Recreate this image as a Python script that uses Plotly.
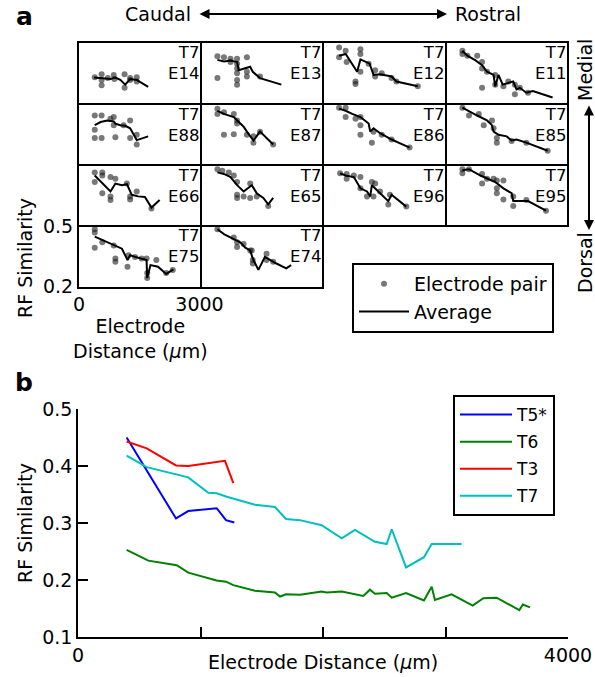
import plotly.graph_objects as go

W, H = 595, 677
FONT = "DejaVu Sans"

# ---------------- Panel a data (T7 electrodes) ----------------
cells = ["E14", "E13", "E12", "E11",
         "E88", "E87", "E86", "E85",
         "E66", "E65", "E96", "E95",
         "E75", "E74"]
cell_rows = [0, 0, 0, 0, 1, 1, 1, 1, 2, 2, 2, 2, 3, 3]
cell_cols = [0, 1, 2, 3, 0, 1, 2, 3, 0, 1, 2, 3, 0, 1]

avg_x = {
    "E14": [375, 580, 784, 906, 1029, 1151, 1273, 1437, 1722],
    "E13": [396, 559, 722, 886, 926, 1049, 1212, 1277, 1457, 1988],
    "E12": [376, 539, 825, 907, 1135, 1233, 1396, 1682, 1804, 2335],
    "E11": [396, 519, 723, 886, 1008, 1172, 1213, 1294, 1400, 1539, 1661, 1743, 1825, 1988, 2151, 2641],
    "E88": [392, 539, 702, 865, 906, 1029, 1151, 1273, 1437, 1722],
    "E87": [396, 559, 804, 886, 1049, 1130, 1294, 1457, 1784],
    "E86": [376, 539, 702, 907, 1111, 1151, 1233, 1396, 1682, 2131],
    "E85": [396, 560, 764, 1008, 1131, 1172, 1294, 1498, 1621, 1743, 1988, 2519],
    "E66": [392, 580, 784, 906, 1069, 1192, 1314, 1477, 1641, 1804, 2008],
    "E65": [396, 559, 722, 886, 1049, 1253, 1375, 1539, 1661, 1784],
    "E96": [400, 539, 743, 907, 1070, 1151, 1192, 1356, 1519, 1600, 1682, 2049],
    "E95": [396, 560, 845, 1008, 1213, 1417, 1621, 1662, 1825, 2029, 2478],
    "E75": [392, 620, 865, 1029, 1069, 1208, 1273, 1396, 1559, 1682, 1698, 1780, 1967, 2171, 2351],
    "E74": [396, 559, 804, 967, 1090, 1212, 1277, 1416, 1579, 1702, 1865, 2110, 2232],
}
avg_y = {
    "E14": [0.326, 0.323, 0.319, 0.326, 0.314, 0.290, 0.318, 0.314, 0.279],
    "E13": [0.415, 0.407, 0.412, 0.404, 0.363, 0.371, 0.380, 0.355, 0.323, 0.290],
    "E12": [0.436, 0.445, 0.355, 0.417, 0.396, 0.339, 0.342, 0.331, 0.306, 0.282],
    "E11": [0.461, 0.436, 0.412, 0.388, 0.355, 0.339, 0.282, 0.339, 0.290, 0.298, 0.306, 0.266, 0.274, 0.249, 0.258, 0.225],
    "E88": [0.395, 0.411, 0.419, 0.414, 0.403, 0.395, 0.392, 0.379, 0.319, 0.338],
    "E87": [0.468, 0.452, 0.436, 0.419, 0.387, 0.362, 0.317, 0.362, 0.297],
    "E86": [0.479, 0.468, 0.452, 0.436, 0.403, 0.362, 0.379, 0.354, 0.322, 0.281],
    "E85": [0.484, 0.468, 0.444, 0.419, 0.395, 0.362, 0.346, 0.338, 0.317, 0.322, 0.306, 0.265],
    "E66": [0.449, 0.408, 0.368, 0.408, 0.400, 0.405, 0.351, 0.343, 0.340, 0.286, 0.324],
    "E65": [0.465, 0.457, 0.441, 0.400, 0.368, 0.400, 0.359, 0.335, 0.302, 0.335],
    "E96": [0.460, 0.449, 0.441, 0.384, 0.368, 0.343, 0.400, 0.368, 0.335, 0.319, 0.351, 0.291],
    "E95": [0.476, 0.481, 0.449, 0.433, 0.416, 0.384, 0.359, 0.319, 0.319, 0.319, 0.270],
    "E75": [0.449, 0.429, 0.405, 0.389, 0.389, 0.332, 0.356, 0.348, 0.340, 0.332, 0.242, 0.307, 0.299, 0.263, 0.286],
    "E74": [0.486, 0.462, 0.437, 0.421, 0.394, 0.380, 0.340, 0.283, 0.348, 0.332, 0.315, 0.291, 0.307],
}
pair_x = {
    "E14": [392, 563, 563, 563, 718, 865, 882, 1135, 1135, 1273, 1437, 1437, 1273],
    "E13": [396, 396, 559, 722, 722, 886, 886, 886, 886, 886, 886, 1130, 1130, 1130, 1457],
    "E12": [376, 376, 539, 564, 784, 784, 907, 907, 907, 1111, 1274, 1274, 1437, 1682, 1804, 2335],
    "E11": [396, 396, 519, 764, 886, 886, 886, 1008, 1213, 1213, 1417, 1539, 1702, 1702, 1825, 2029],
    "E88": [392, 392, 392, 563, 563, 784, 865, 865, 906, 1110, 1273, 1273, 1437, 1437],
    "E87": [396, 396, 559, 804, 886, 886, 559, 804, 1130, 1294, 1294, 1457, 1784],
    "E86": [376, 539, 539, 784, 907, 907, 907, 1192, 1233, 1437, 1682, 2131],
    "E85": [396, 560, 804, 927, 1131, 1172, 1253, 1253, 1621, 1988, 2519],
    "E66": [392, 392, 580, 580, 580, 784, 784, 784, 906, 1192, 1273, 1273, 1437, 1804],
    "E65": [396, 518, 681, 804, 886, 886, 886, 1049, 1212, 1212, 1375, 1661],
    "E96": [400, 564, 564, 743, 907, 907, 1070, 1192, 1233, 1274, 1396, 1600, 1641, 2049],
    "E95": [396, 396, 560, 886, 886, 1008, 1172, 1253, 1253, 1417, 1253, 1417, 1662, 1662, 1988, 2478],
    "E75": [392, 392, 392, 580, 865, 906, 906, 1208, 1233, 1396, 1559, 1682, 1698, 1698, 1926, 2171, 2335],
    "E74": [396, 804, 886, 886, 1049, 1212, 1277, 1277, 1620, 1620, 1784, 1253],
}
pair_y = {
    "E14": [0.327, 0.342, 0.314, 0.287, 0.323, 0.339, 0.318, 0.342, 0.274, 0.314, 0.327, 0.306, 0.323],
    "E13": [0.433, 0.323, 0.428, 0.420, 0.404, 0.420, 0.396, 0.371, 0.347, 0.314, 0.290, 0.428, 0.355, 0.331, 0.331],
    "E12": [0.477, 0.428, 0.461, 0.404, 0.306, 0.293, 0.469, 0.445, 0.355, 0.396, 0.363, 0.331, 0.347, 0.323, 0.306, 0.282],
    "E11": [0.461, 0.445, 0.436, 0.436, 0.404, 0.371, 0.274, 0.355, 0.339, 0.290, 0.282, 0.306, 0.290, 0.241, 0.274, 0.249],
    "E88": [0.444, 0.371, 0.330, 0.444, 0.330, 0.428, 0.436, 0.395, 0.333, 0.395, 0.419, 0.330, 0.346, 0.297],
    "E87": [0.479, 0.452, 0.460, 0.452, 0.419, 0.403, 0.346, 0.349, 0.346, 0.338, 0.306, 0.362, 0.297],
    "E86": [0.484, 0.484, 0.436, 0.428, 0.436, 0.395, 0.346, 0.306, 0.362, 0.346, 0.322, 0.281],
    "E85": [0.484, 0.444, 0.452, 0.395, 0.419, 0.379, 0.330, 0.306, 0.314, 0.306, 0.265],
    "E66": [0.465, 0.416, 0.465, 0.449, 0.359, 0.441, 0.343, 0.324, 0.433, 0.408, 0.343, 0.327, 0.368, 0.281],
    "E65": [0.481, 0.473, 0.465, 0.449, 0.416, 0.351, 0.335, 0.343, 0.408, 0.335, 0.343, 0.294],
    "E96": [0.460, 0.457, 0.433, 0.449, 0.441, 0.384, 0.343, 0.416, 0.343, 0.408, 0.368, 0.302, 0.351, 0.291],
    "E95": [0.481, 0.460, 0.481, 0.457, 0.408, 0.433, 0.433, 0.424, 0.384, 0.424, 0.359, 0.327, 0.343, 0.294, 0.324, 0.270],
    "E75": [0.486, 0.470, 0.394, 0.421, 0.405, 0.340, 0.324, 0.299, 0.356, 0.348, 0.340, 0.340, 0.267, 0.242, 0.332, 0.267, 0.283],
    "E74": [0.486, 0.445, 0.421, 0.397, 0.413, 0.380, 0.332, 0.315, 0.364, 0.332, 0.324, 0.380],
}

# ---------------- Panel b data ----------------
series_names = ["T5*", "T6", "T3", "T7"]
series_colors = ["#0000ff", "#008000", "#ff0000", "#00bfbf"]
dist_T5 = [397, 800, 900, 1132, 1208, 1276]
sim_T5 = [0.450, 0.308, 0.321, 0.326, 0.305, 0.301]
dist_T6 = [397, 574, 806, 900, 1132, 1208, 1268, 1445, 1608, 1649, 1698, 1812, 1989, 2030, 2153,
           2329, 2383, 2424, 2520, 2561, 2678, 2824, 2887, 2914, 3050, 3222, 3309, 3418, 3603, 3631, 3690]
sim_T6 = [0.253, 0.234, 0.226, 0.213, 0.199, 0.197, 0.191, 0.181, 0.178, 0.171, 0.175, 0.174, 0.180, 0.178, 0.180,
          0.172, 0.183, 0.176, 0.177, 0.169, 0.177, 0.164, 0.188, 0.165, 0.175, 0.155, 0.168, 0.169, 0.147, 0.157, 0.152]
dist_T3 = [397, 561, 800, 900, 1200, 1268]
sim_T3 = [0.443, 0.431, 0.401, 0.400, 0.409, 0.370]
dist_T7 = [397, 561, 900, 1064, 1132, 1214, 1445, 1608, 1698, 1812, 1989, 2153, 2261, 2424, 2520, 2561,
           2678, 2824, 2887, 3132]
sim_T7 = [0.418, 0.398, 0.380, 0.353, 0.352, 0.346, 0.332, 0.328, 0.307, 0.305, 0.296, 0.273, 0.288, 0.267,
          0.263, 0.289, 0.222, 0.240, 0.263, 0.263]
b_xticks = [0, 1000, 2000, 3000, 4000]
b_xticktext = ["0", "", "", "", "4000"]
b_yticks = [0.1, 0.2, 0.3, 0.4, 0.5]

# ---------------- helpers (layout only) ----------------
def fx(p):
    return p / W

def fy(p):
    return 1 - p / H

col_edges = [78, 200.5, 323, 445.5, 568]
row_edges = [42, 103.5, 164.5, 225.5, 287.5]

fig = go.Figure()
layout = {}
annotations = []

for i, name in enumerate(cells):
    n = i + 1
    sfx = "" if n == 1 else str(n)
    xa, ya = "x" + sfx, "y" + sfx
    r, c = cell_rows[i], cell_cols[i]
    fig.add_trace(go.Scatter(
        x=pair_x[name], y=pair_y[name], mode="markers",
        marker=dict(size=6, color="rgba(30,30,30,0.6)", line=dict(width=0)),
        xaxis=xa, yaxis=ya, name="Electrode pair", legend="legend",
        showlegend=(i == 0), hoverinfo="skip"))
    fig.add_trace(go.Scatter(
        x=avg_x[name], y=avg_y[name], mode="lines",
        line=dict(color="black", width=2),
        xaxis=xa, yaxis=ya, name="Average", legend="legend",
        showlegend=(i == 0), hoverinfo="skip"))
    show = (name == "E75")
    layout["xaxis" + sfx] = dict(
        domain=[fx(col_edges[c] + 1), fx(col_edges[c + 1] - 1)],
        range=[0, 3000], anchor=ya, showline=True, mirror=True,
        linecolor="black", linewidth=2, showgrid=False, zeroline=False,
        ticks="", tickvals=[0, 3000], showticklabels=show, automargin=False,
        tickfont=dict(family=FONT, size=19, color="black"), fixedrange=True)
    layout["yaxis" + sfx] = dict(
        domain=[fy(row_edges[r + 1] - 1), fy(row_edges[r] + 1)],
        range=[0.2, 0.5], anchor=xa, showline=True, mirror=True,
        linecolor="black", linewidth=2, showgrid=False, zeroline=False,
        ticks="", tickvals=[0.2, 0.5], showticklabels=show, automargin=False,
        tickfont=dict(family=FONT, size=19, color="black"), fixedrange=True)
    annotations.append(dict(
        text="T7<br>" + name, xref=xa + " domain", yref=ya + " domain",
        x=1, y=1, xanchor="right", yanchor="top", showarrow=False, align="right",
        xshift=1, yshift=2,
        font=dict(family=FONT, size=16.5, color="black")))

# panel b
bsx, bsy = "x15", "y15"
for nm, col, xs, ys in zip(series_names, series_colors,
                           [dist_T5, dist_T6, dist_T3, dist_T7],
                           [sim_T5, sim_T6, sim_T3, sim_T7]):
    fig.add_trace(go.Scatter(x=xs, y=ys, mode="lines", name=nm,
                             line=dict(color=col, width=2), xaxis=bsx, yaxis=bsy,
                             legend="legend2", legendgroup=nm, hoverinfo="skip"))

layout["xaxis15"] = dict(
    domain=[fx(78), fx(568)], range=[0, 4000], anchor="y15",
    showline=True, linecolor="black", linewidth=1.5, showgrid=False, zeroline=False,
    ticks="inside", ticklen=10, tickwidth=1.5, tickcolor="black",
    tickvals=b_xticks, ticktext=b_xticktext, automargin=False,
    tickfont=dict(family=FONT, size=19, color="black"), fixedrange=True)
layout["yaxis15"] = dict(
    domain=[fy(637), fy(409)], range=[0.1, 0.5], anchor="x15",
    showline=True, linecolor="black", linewidth=1.5, showgrid=False, zeroline=False,
    ticks="inside", ticklen=10, tickwidth=1.5, tickcolor="black",
    tickvals=b_yticks, tickformat=".1f", automargin=False,
    tickfont=dict(family=FONT, size=19, color="black"), fixedrange=True)

txt = dict(family=FONT, size=19, color="black")

def label(text, x, y, font=txt, angle=0):
    return dict(text=text, x=fx(x), y=fy(y), xref="paper", yref="paper",
                xanchor="center", yanchor="middle", showarrow=False,
                textangle=angle, font=font)

annotations += [
    label("<b>a</b>", 24, 17, dict(family=FONT, size=25, color="black")),
    label("<b>b</b>", 24, 382, dict(family=FONT, size=25, color="black")),
    label("Caudal", 158, 14),
    label("Rostral", 488, 14),
    dict(text="", x=fx(447), y=fy(14), xref="paper", yref="paper",
         ax=-249, ay=0, showarrow=True, arrowhead=2, startarrowhead=2,
         arrowside="end+start", arrowsize=1, arrowwidth=2, arrowcolor="black"),
    label("Medial", 585, 70, angle=-90),
    label("Dorsal", 585, 263, angle=-90),
    dict(text="", x=fx(589), y=fy(230), xref="paper", yref="paper",
         ax=0, ay=-126, showarrow=True, arrowhead=2, startarrowhead=2,
         arrowside="end+start", arrowsize=1, arrowwidth=2, arrowcolor="black"),
    label("RF Similarity", 25, 258, angle=-90),
    label("Electrode<br>Distance (<i>μ</i>m)", 140, 338),
    label("RF Similarity", 25, 523, angle=-90),
    label("Electrode Distance (<i>μ</i>m)", 323, 662),
]

fig.update_layout(
    width=W, height=H, margin=dict(l=0, r=0, t=0, b=0, autoexpand=False),
    paper_bgcolor="white", plot_bgcolor="white",
    font=dict(family=FONT, color="black"),
    showlegend=True,
    legend=dict(x=fx(352), y=fy(263), xanchor="left", yanchor="top",
                bgcolor="white", bordercolor="black", borderwidth=2,
                font=dict(family=FONT, size=19, color="black"),
                itemwidth=50, tracegroupgap=0),
    legend2=dict(x=fx(453), y=fy(395), xanchor="left", yanchor="top",
                 bgcolor="white", bordercolor="black", borderwidth=2,
                 font=dict(family=FONT, size=17, color="black"),
                 itemwidth=52, tracegroupgap=2),
    annotations=annotations,
    **layout,
)

fig.write_html("out.html")
